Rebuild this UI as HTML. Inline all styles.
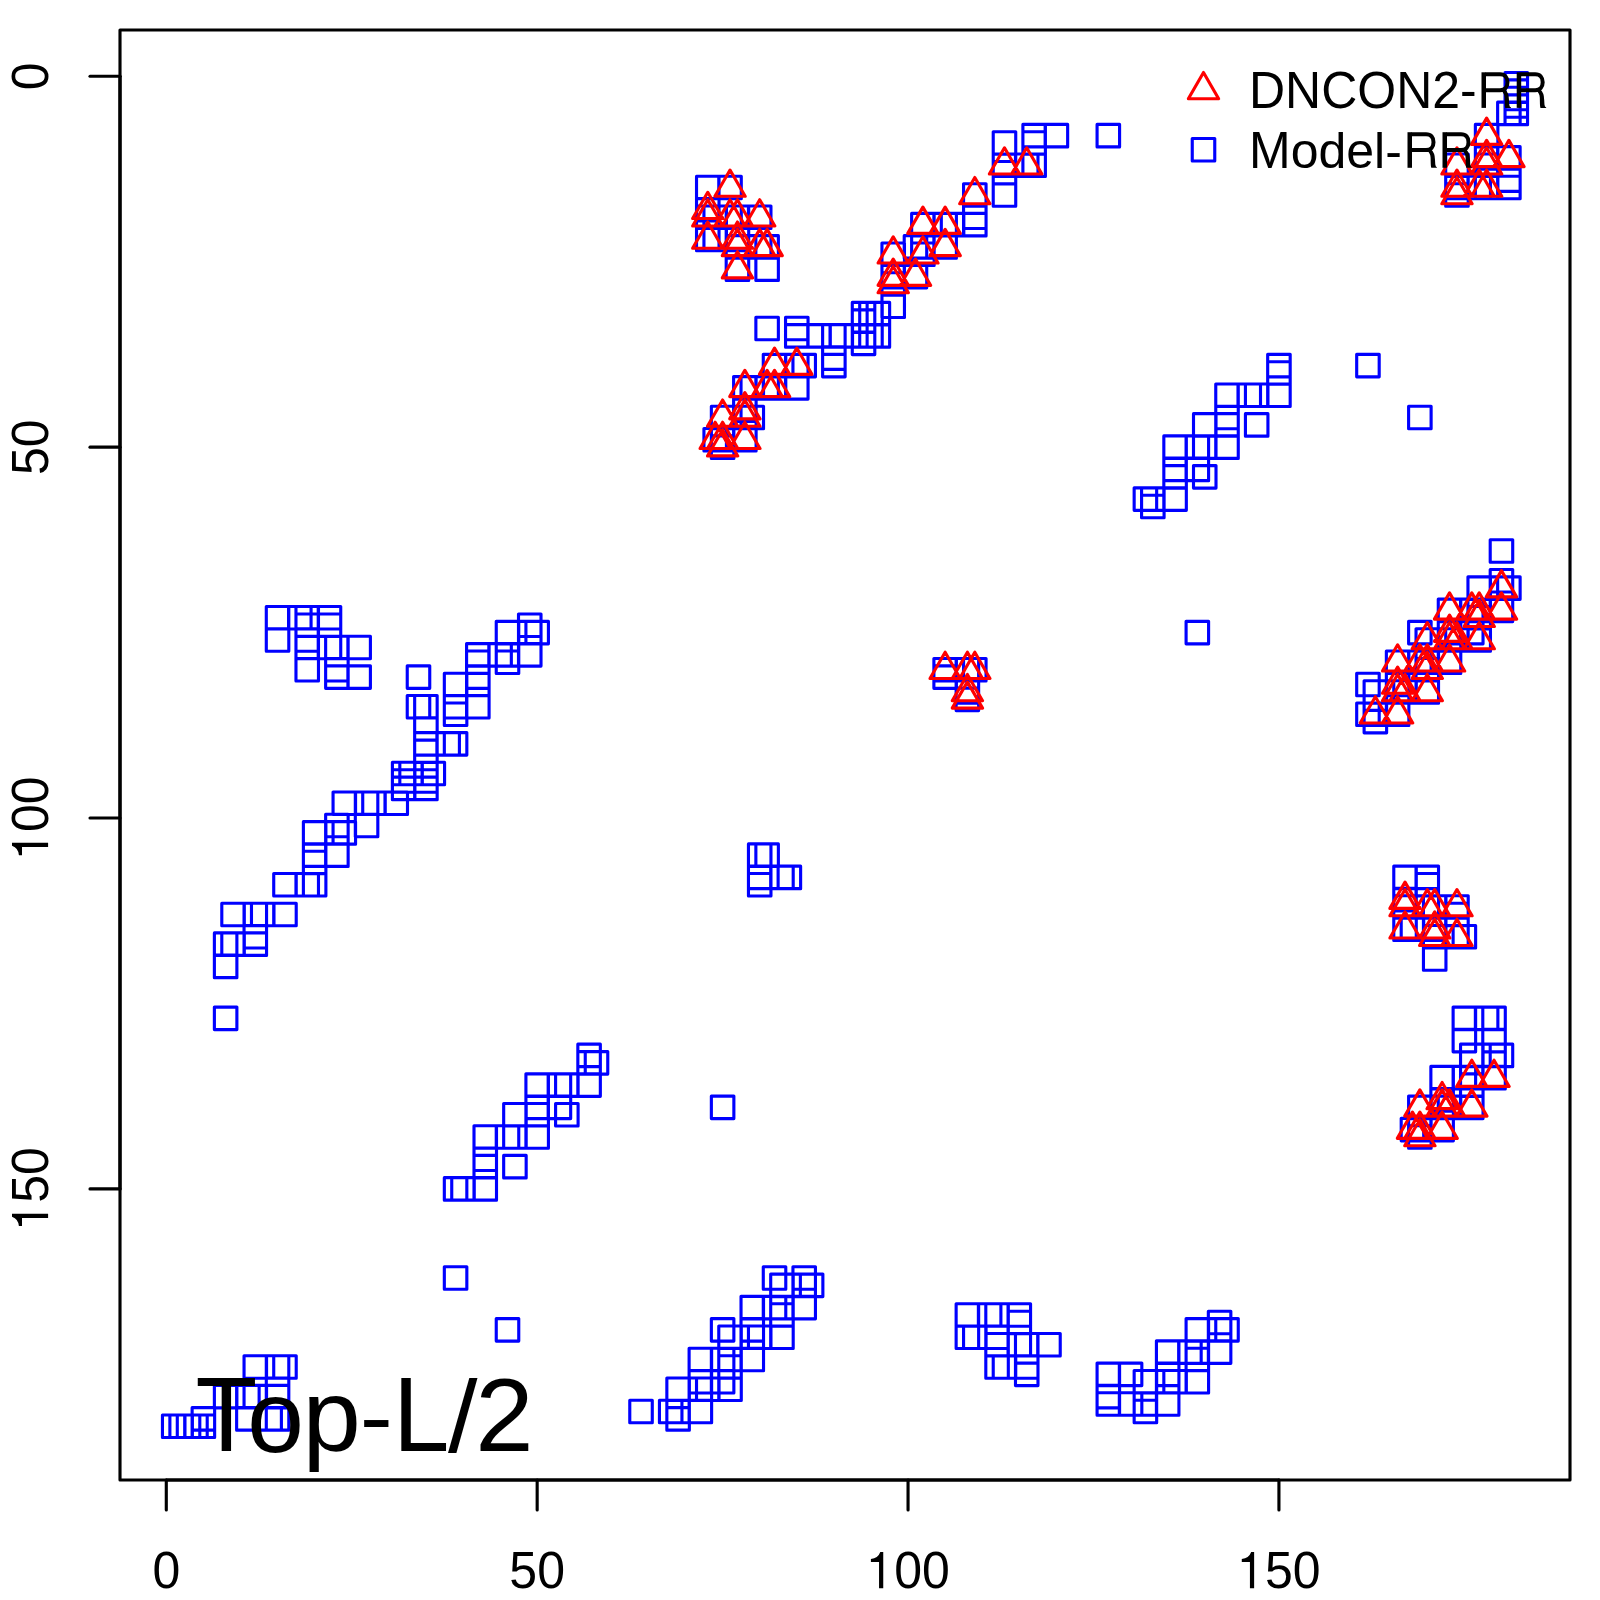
<!DOCTYPE html>
<html><head><meta charset="utf-8"><title>Top-L/2</title>
<style>html,body{margin:0;padding:0;background:#fff}svg{display:block}text{font-family:"Liberation Sans",sans-serif;fill:#000}</style></head>
<body>
<svg width="1600" height="1600" viewBox="0 0 1600 1600">
<rect x="0" y="0" width="1600" height="1600" fill="#fff"/>
<path fill="none" stroke="#0000ff" stroke-width="3.125" stroke-linejoin="round" d="M162.46 1415.04h22.50v22.50h-22.50zM169.88 1415.04h22.50v22.50h-22.50zM177.29 1415.04h22.50v22.50h-22.50zM184.71 1415.04h22.50v22.50h-22.50zM192.13 1415.04h22.50v22.50h-22.50zM192.13 1407.63h22.50v22.50h-22.50zM214.38 1385.37h22.50v22.50h-22.50zM236.63 1385.37h22.50v22.50h-22.50zM244.05 1385.37h22.50v22.50h-22.50zM266.30 1385.37h22.50v22.50h-22.50zM236.63 1407.63h22.50v22.50h-22.50zM258.89 1407.63h22.50v22.50h-22.50zM266.30 1407.63h22.50v22.50h-22.50zM244.05 1355.70h22.50v22.50h-22.50zM266.30 1355.70h22.50v22.50h-22.50zM273.72 1355.70h22.50v22.50h-22.50zM266.30 1377.96h22.50v22.50h-22.50zM221.80 903.23h22.50v22.50h-22.50zM244.05 903.23h22.50v22.50h-22.50zM251.47 903.23h22.50v22.50h-22.50zM273.72 903.23h22.50v22.50h-22.50zM214.38 932.90h22.50v22.50h-22.50zM221.80 932.90h22.50v22.50h-22.50zM244.05 932.90h22.50v22.50h-22.50zM244.05 925.48h22.50v22.50h-22.50zM214.38 955.15h22.50v22.50h-22.50zM214.38 1007.08h22.50v22.50h-22.50zM273.72 873.56h22.50v22.50h-22.50zM295.97 873.56h22.50v22.50h-22.50zM303.39 873.56h22.50v22.50h-22.50zM303.39 821.64h22.50v22.50h-22.50zM303.39 843.89h22.50v22.50h-22.50zM303.39 851.31h22.50v22.50h-22.50zM325.64 814.22h22.50v22.50h-22.50zM325.64 821.64h22.50v22.50h-22.50zM325.64 843.89h22.50v22.50h-22.50zM333.06 791.96h22.50v22.50h-22.50zM333.06 821.64h22.50v22.50h-22.50zM355.32 791.96h22.50v22.50h-22.50zM362.73 791.96h22.50v22.50h-22.50zM384.99 791.96h22.50v22.50h-22.50zM355.32 814.22h22.50v22.50h-22.50zM392.40 762.29h22.50v22.50h-22.50zM392.40 769.71h22.50v22.50h-22.50zM392.40 777.13h22.50v22.50h-22.50zM414.66 762.29h22.50v22.50h-22.50zM414.66 769.71h22.50v22.50h-22.50zM414.66 777.13h22.50v22.50h-22.50zM399.82 762.29h22.50v22.50h-22.50zM422.07 762.29h22.50v22.50h-22.50zM407.24 665.87h22.50v22.50h-22.50zM407.24 695.54h22.50v22.50h-22.50zM414.66 695.54h22.50v22.50h-22.50zM414.66 717.79h22.50v22.50h-22.50zM414.66 732.62h22.50v22.50h-22.50zM414.66 740.04h22.50v22.50h-22.50zM436.91 732.62h22.50v22.50h-22.50zM444.33 732.62h22.50v22.50h-22.50zM444.33 673.28h22.50v22.50h-22.50zM444.33 695.54h22.50v22.50h-22.50zM444.33 702.95h22.50v22.50h-22.50zM466.58 643.61h22.50v22.50h-22.50zM466.58 651.03h22.50v22.50h-22.50zM466.58 665.87h22.50v22.50h-22.50zM466.58 673.28h22.50v22.50h-22.50zM466.58 695.54h22.50v22.50h-22.50zM488.83 643.61h22.50v22.50h-22.50zM496.25 643.61h22.50v22.50h-22.50zM496.25 651.03h22.50v22.50h-22.50zM518.50 643.61h22.50v22.50h-22.50zM496.25 621.36h22.50v22.50h-22.50zM518.50 613.94h22.50v22.50h-22.50zM518.50 621.36h22.50v22.50h-22.50zM525.92 621.36h22.50v22.50h-22.50zM266.30 606.52h22.50v22.50h-22.50zM266.30 628.78h22.50v22.50h-22.50zM288.56 606.52h22.50v22.50h-22.50zM295.97 606.52h22.50v22.50h-22.50zM318.23 606.52h22.50v22.50h-22.50zM295.97 613.94h22.50v22.50h-22.50zM318.23 613.94h22.50v22.50h-22.50zM295.97 628.78h22.50v22.50h-22.50zM295.97 636.20h22.50v22.50h-22.50zM295.97 658.45h22.50v22.50h-22.50zM318.23 636.20h22.50v22.50h-22.50zM325.64 636.20h22.50v22.50h-22.50zM325.64 658.45h22.50v22.50h-22.50zM325.64 665.87h22.50v22.50h-22.50zM347.90 636.20h22.50v22.50h-22.50zM347.90 665.87h22.50v22.50h-22.50zM444.33 1177.68h22.50v22.50h-22.50zM451.74 1177.68h22.50v22.50h-22.50zM474.00 1177.68h22.50v22.50h-22.50zM474.00 1125.76h22.50v22.50h-22.50zM474.00 1148.01h22.50v22.50h-22.50zM474.00 1155.43h22.50v22.50h-22.50zM496.25 1125.76h22.50v22.50h-22.50zM503.67 1125.76h22.50v22.50h-22.50zM525.92 1125.76h22.50v22.50h-22.50zM503.67 1155.43h22.50v22.50h-22.50zM503.67 1103.50h22.50v22.50h-22.50zM525.92 1073.83h22.50v22.50h-22.50zM525.92 1096.09h22.50v22.50h-22.50zM525.92 1103.50h22.50v22.50h-22.50zM548.17 1073.83h22.50v22.50h-22.50zM555.59 1073.83h22.50v22.50h-22.50zM577.84 1073.83h22.50v22.50h-22.50zM548.17 1096.09h22.50v22.50h-22.50zM555.59 1103.50h22.50v22.50h-22.50zM577.84 1044.16h22.50v22.50h-22.50zM577.84 1051.58h22.50v22.50h-22.50zM585.26 1051.58h22.50v22.50h-22.50zM444.33 1266.69h22.50v22.50h-22.50zM496.25 1318.61h22.50v22.50h-22.50zM629.77 1400.21h22.50v22.50h-22.50zM659.44 1400.21h22.50v22.50h-22.50zM666.85 1400.21h22.50v22.50h-22.50zM666.85 1407.63h22.50v22.50h-22.50zM666.85 1377.96h22.50v22.50h-22.50zM689.11 1400.21h22.50v22.50h-22.50zM689.11 1348.28h22.50v22.50h-22.50zM689.11 1370.54h22.50v22.50h-22.50zM689.11 1377.96h22.50v22.50h-22.50zM696.52 1377.96h22.50v22.50h-22.50zM711.36 1370.54h22.50v22.50h-22.50zM718.78 1377.96h22.50v22.50h-22.50zM711.36 1348.28h22.50v22.50h-22.50zM718.78 1348.28h22.50v22.50h-22.50zM718.78 1355.70h22.50v22.50h-22.50zM741.03 1348.28h22.50v22.50h-22.50zM711.36 1318.61h22.50v22.50h-22.50zM718.78 1326.03h22.50v22.50h-22.50zM741.03 1318.61h22.50v22.50h-22.50zM741.03 1326.03h22.50v22.50h-22.50zM748.45 1326.03h22.50v22.50h-22.50zM741.03 1296.36h22.50v22.50h-22.50zM763.28 1296.36h22.50v22.50h-22.50zM770.70 1296.36h22.50v22.50h-22.50zM770.70 1303.78h22.50v22.50h-22.50zM770.70 1326.03h22.50v22.50h-22.50zM792.95 1296.36h22.50v22.50h-22.50zM763.28 1266.69h22.50v22.50h-22.50zM792.95 1266.69h22.50v22.50h-22.50zM770.70 1274.11h22.50v22.50h-22.50zM792.95 1274.11h22.50v22.50h-22.50zM800.37 1274.11h22.50v22.50h-22.50zM748.45 843.89h22.50v22.50h-22.50zM755.87 843.89h22.50v22.50h-22.50zM748.45 866.14h22.50v22.50h-22.50zM748.45 873.56h22.50v22.50h-22.50zM770.70 866.14h22.50v22.50h-22.50zM778.12 866.14h22.50v22.50h-22.50zM711.36 1096.09h22.50v22.50h-22.50zM956.14 1303.78h22.50v22.50h-22.50zM978.39 1303.78h22.50v22.50h-22.50zM985.81 1303.78h22.50v22.50h-22.50zM1008.06 1303.78h22.50v22.50h-22.50zM1008.06 1311.20h22.50v22.50h-22.50zM956.14 1326.03h22.50v22.50h-22.50zM963.56 1326.03h22.50v22.50h-22.50zM985.81 1326.03h22.50v22.50h-22.50zM985.81 1333.45h22.50v22.50h-22.50zM1008.06 1333.45h22.50v22.50h-22.50zM1015.48 1333.45h22.50v22.50h-22.50zM1037.73 1333.45h22.50v22.50h-22.50zM985.81 1355.70h22.50v22.50h-22.50zM993.23 1355.70h22.50v22.50h-22.50zM1015.48 1355.70h22.50v22.50h-22.50zM1015.48 1363.12h22.50v22.50h-22.50zM1208.34 1311.20h22.50v22.50h-22.50zM1186.09 1318.61h22.50v22.50h-22.50zM1208.34 1318.61h22.50v22.50h-22.50zM1215.76 1318.61h22.50v22.50h-22.50zM1208.34 1340.87h22.50v22.50h-22.50zM1156.42 1340.87h22.50v22.50h-22.50zM1178.67 1340.87h22.50v22.50h-22.50zM1186.09 1340.87h22.50v22.50h-22.50zM1186.09 1348.28h22.50v22.50h-22.50zM1134.16 1370.54h22.50v22.50h-22.50zM1156.42 1370.54h22.50v22.50h-22.50zM1163.83 1370.54h22.50v22.50h-22.50zM1186.09 1370.54h22.50v22.50h-22.50zM1156.42 1363.12h22.50v22.50h-22.50zM1097.08 1363.12h22.50v22.50h-22.50zM1119.33 1363.12h22.50v22.50h-22.50zM1097.08 1385.37h22.50v22.50h-22.50zM1097.08 1392.79h22.50v22.50h-22.50zM1119.33 1392.79h22.50v22.50h-22.50zM1134.16 1392.79h22.50v22.50h-22.50zM1156.42 1392.79h22.50v22.50h-22.50zM1134.16 1400.21h22.50v22.50h-22.50zM1505.04 72.46h22.50v22.50h-22.50zM1505.04 79.88h22.50v22.50h-22.50zM1505.04 87.29h22.50v22.50h-22.50zM1505.04 94.71h22.50v22.50h-22.50zM1505.04 102.13h22.50v22.50h-22.50zM1497.63 102.13h22.50v22.50h-22.50zM1475.37 124.38h22.50v22.50h-22.50zM1475.37 146.63h22.50v22.50h-22.50zM1475.37 154.05h22.50v22.50h-22.50zM1475.37 176.30h22.50v22.50h-22.50zM1497.63 146.63h22.50v22.50h-22.50zM1497.63 168.89h22.50v22.50h-22.50zM1497.63 176.30h22.50v22.50h-22.50zM1445.70 154.05h22.50v22.50h-22.50zM1445.70 176.30h22.50v22.50h-22.50zM1445.70 183.72h22.50v22.50h-22.50zM1467.96 176.30h22.50v22.50h-22.50zM993.23 131.80h22.50v22.50h-22.50zM993.23 154.05h22.50v22.50h-22.50zM993.23 161.47h22.50v22.50h-22.50zM993.23 183.72h22.50v22.50h-22.50zM1022.90 124.38h22.50v22.50h-22.50zM1022.90 131.80h22.50v22.50h-22.50zM1022.90 154.05h22.50v22.50h-22.50zM1015.48 154.05h22.50v22.50h-22.50zM1045.15 124.38h22.50v22.50h-22.50zM1097.08 124.38h22.50v22.50h-22.50zM963.56 183.72h22.50v22.50h-22.50zM963.56 205.97h22.50v22.50h-22.50zM963.56 213.39h22.50v22.50h-22.50zM911.64 213.39h22.50v22.50h-22.50zM933.89 213.39h22.50v22.50h-22.50zM941.31 213.39h22.50v22.50h-22.50zM904.22 235.64h22.50v22.50h-22.50zM911.64 235.64h22.50v22.50h-22.50zM933.89 235.64h22.50v22.50h-22.50zM881.96 243.06h22.50v22.50h-22.50zM911.64 243.06h22.50v22.50h-22.50zM881.96 265.32h22.50v22.50h-22.50zM881.96 272.73h22.50v22.50h-22.50zM881.96 294.99h22.50v22.50h-22.50zM904.22 265.32h22.50v22.50h-22.50zM852.29 302.40h22.50v22.50h-22.50zM859.71 302.40h22.50v22.50h-22.50zM867.13 302.40h22.50v22.50h-22.50zM852.29 324.66h22.50v22.50h-22.50zM859.71 324.66h22.50v22.50h-22.50zM867.13 324.66h22.50v22.50h-22.50zM852.29 309.82h22.50v22.50h-22.50zM852.29 332.07h22.50v22.50h-22.50zM755.87 317.24h22.50v22.50h-22.50zM785.54 317.24h22.50v22.50h-22.50zM785.54 324.66h22.50v22.50h-22.50zM807.79 324.66h22.50v22.50h-22.50zM822.62 324.66h22.50v22.50h-22.50zM830.04 324.66h22.50v22.50h-22.50zM822.62 346.91h22.50v22.50h-22.50zM822.62 354.33h22.50v22.50h-22.50zM763.28 354.33h22.50v22.50h-22.50zM785.54 354.33h22.50v22.50h-22.50zM792.95 354.33h22.50v22.50h-22.50zM733.61 376.58h22.50v22.50h-22.50zM741.03 376.58h22.50v22.50h-22.50zM755.87 376.58h22.50v22.50h-22.50zM763.28 376.58h22.50v22.50h-22.50zM785.54 376.58h22.50v22.50h-22.50zM733.61 398.83h22.50v22.50h-22.50zM733.61 406.25h22.50v22.50h-22.50zM741.03 406.25h22.50v22.50h-22.50zM733.61 428.50h22.50v22.50h-22.50zM711.36 406.25h22.50v22.50h-22.50zM703.94 428.50h22.50v22.50h-22.50zM711.36 428.50h22.50v22.50h-22.50zM711.36 435.92h22.50v22.50h-22.50zM696.52 176.30h22.50v22.50h-22.50zM718.78 176.30h22.50v22.50h-22.50zM696.52 198.56h22.50v22.50h-22.50zM696.52 205.97h22.50v22.50h-22.50zM696.52 228.23h22.50v22.50h-22.50zM703.94 205.97h22.50v22.50h-22.50zM703.94 228.23h22.50v22.50h-22.50zM718.78 205.97h22.50v22.50h-22.50zM726.20 205.97h22.50v22.50h-22.50zM748.45 205.97h22.50v22.50h-22.50zM726.20 228.23h22.50v22.50h-22.50zM726.20 235.64h22.50v22.50h-22.50zM748.45 235.64h22.50v22.50h-22.50zM755.87 235.64h22.50v22.50h-22.50zM726.20 257.90h22.50v22.50h-22.50zM755.87 257.90h22.50v22.50h-22.50zM1267.68 354.33h22.50v22.50h-22.50zM1267.68 361.74h22.50v22.50h-22.50zM1267.68 384.00h22.50v22.50h-22.50zM1215.76 384.00h22.50v22.50h-22.50zM1238.01 384.00h22.50v22.50h-22.50zM1245.43 384.00h22.50v22.50h-22.50zM1215.76 406.25h22.50v22.50h-22.50zM1215.76 413.67h22.50v22.50h-22.50zM1215.76 435.92h22.50v22.50h-22.50zM1245.43 413.67h22.50v22.50h-22.50zM1193.50 413.67h22.50v22.50h-22.50zM1163.83 435.92h22.50v22.50h-22.50zM1186.09 435.92h22.50v22.50h-22.50zM1193.50 435.92h22.50v22.50h-22.50zM1163.83 458.17h22.50v22.50h-22.50zM1163.83 465.59h22.50v22.50h-22.50zM1163.83 487.84h22.50v22.50h-22.50zM1186.09 458.17h22.50v22.50h-22.50zM1193.50 465.59h22.50v22.50h-22.50zM1134.16 487.84h22.50v22.50h-22.50zM1141.58 487.84h22.50v22.50h-22.50zM1141.58 495.26h22.50v22.50h-22.50zM1356.69 354.33h22.50v22.50h-22.50zM1408.61 406.25h22.50v22.50h-22.50zM1490.21 539.77h22.50v22.50h-22.50zM1490.21 569.44h22.50v22.50h-22.50zM1490.21 576.85h22.50v22.50h-22.50zM1497.63 576.85h22.50v22.50h-22.50zM1467.96 576.85h22.50v22.50h-22.50zM1490.21 599.11h22.50v22.50h-22.50zM1438.28 599.11h22.50v22.50h-22.50zM1460.54 599.11h22.50v22.50h-22.50zM1467.96 599.11h22.50v22.50h-22.50zM1467.96 606.52h22.50v22.50h-22.50zM1460.54 621.36h22.50v22.50h-22.50zM1467.96 628.78h22.50v22.50h-22.50zM1438.28 621.36h22.50v22.50h-22.50zM1438.28 628.78h22.50v22.50h-22.50zM1445.70 628.78h22.50v22.50h-22.50zM1438.28 651.03h22.50v22.50h-22.50zM1408.61 621.36h22.50v22.50h-22.50zM1416.03 628.78h22.50v22.50h-22.50zM1408.61 651.03h22.50v22.50h-22.50zM1416.03 651.03h22.50v22.50h-22.50zM1416.03 658.45h22.50v22.50h-22.50zM1386.36 651.03h22.50v22.50h-22.50zM1386.36 673.28h22.50v22.50h-22.50zM1386.36 680.70h22.50v22.50h-22.50zM1393.78 680.70h22.50v22.50h-22.50zM1416.03 680.70h22.50v22.50h-22.50zM1386.36 702.95h22.50v22.50h-22.50zM1356.69 673.28h22.50v22.50h-22.50zM1356.69 702.95h22.50v22.50h-22.50zM1364.11 680.70h22.50v22.50h-22.50zM1364.11 702.95h22.50v22.50h-22.50zM1364.11 710.37h22.50v22.50h-22.50zM933.89 658.45h22.50v22.50h-22.50zM933.89 665.87h22.50v22.50h-22.50zM956.14 658.45h22.50v22.50h-22.50zM963.56 658.45h22.50v22.50h-22.50zM956.14 680.70h22.50v22.50h-22.50zM956.14 688.12h22.50v22.50h-22.50zM1186.09 621.36h22.50v22.50h-22.50zM1393.78 866.14h22.50v22.50h-22.50zM1393.78 888.39h22.50v22.50h-22.50zM1393.78 895.81h22.50v22.50h-22.50zM1393.78 918.06h22.50v22.50h-22.50zM1401.20 918.06h22.50v22.50h-22.50zM1416.03 866.14h22.50v22.50h-22.50zM1416.03 873.56h22.50v22.50h-22.50zM1416.03 895.81h22.50v22.50h-22.50zM1423.45 895.81h22.50v22.50h-22.50zM1423.45 918.06h22.50v22.50h-22.50zM1423.45 925.48h22.50v22.50h-22.50zM1423.45 947.73h22.50v22.50h-22.50zM1445.70 895.81h22.50v22.50h-22.50zM1445.70 903.23h22.50v22.50h-22.50zM1445.70 925.48h22.50v22.50h-22.50zM1453.12 925.48h22.50v22.50h-22.50zM1401.20 1118.34h22.50v22.50h-22.50zM1408.61 1096.09h22.50v22.50h-22.50zM1408.61 1118.34h22.50v22.50h-22.50zM1408.61 1125.76h22.50v22.50h-22.50zM1430.87 1118.34h22.50v22.50h-22.50zM1430.87 1066.42h22.50v22.50h-22.50zM1430.87 1088.67h22.50v22.50h-22.50zM1430.87 1096.09h22.50v22.50h-22.50zM1438.28 1096.09h22.50v22.50h-22.50zM1460.54 1044.16h22.50v22.50h-22.50zM1460.54 1066.42h22.50v22.50h-22.50zM1460.54 1073.83h22.50v22.50h-22.50zM1460.54 1096.09h22.50v22.50h-22.50zM1453.12 1066.42h22.50v22.50h-22.50zM1453.12 1007.08h22.50v22.50h-22.50zM1453.12 1029.33h22.50v22.50h-22.50zM1475.37 1007.08h22.50v22.50h-22.50zM1482.79 1007.08h22.50v22.50h-22.50zM1482.79 1029.33h22.50v22.50h-22.50zM1482.79 1044.16h22.50v22.50h-22.50zM1482.79 1066.42h22.50v22.50h-22.50zM1490.21 1044.16h22.50v22.50h-22.50z"/>
<path fill="none" stroke="#ff0000" stroke-width="3.125" stroke-linejoin="round" d="M730.03 170.06L745.18 196.30L714.88 196.30zM707.77 192.32L722.92 218.56L692.62 218.56zM707.77 199.73L722.92 225.97L692.62 225.97zM730.03 199.73L745.18 225.97L714.88 225.97zM737.45 199.73L752.60 225.97L722.30 225.97zM759.70 199.73L774.85 225.97L744.55 225.97zM707.77 221.99L722.92 248.23L692.62 248.23zM737.45 221.99L752.60 248.23L722.30 248.23zM737.45 229.40L752.60 255.64L722.30 255.64zM759.70 229.40L774.85 255.64L744.55 255.64zM767.12 229.40L782.27 255.64L751.97 255.64zM737.45 251.66L752.60 277.90L722.30 277.90zM974.81 177.48L989.96 203.72L959.66 203.72zM922.89 207.15L938.04 233.39L907.74 233.39zM945.14 207.15L960.29 233.39L929.99 233.39zM945.14 229.40L960.29 255.64L929.99 255.64zM893.21 236.82L908.36 263.06L878.06 263.06zM922.89 236.82L938.04 263.06L907.74 263.06zM893.21 259.08L908.36 285.32L878.06 285.32zM915.47 259.08L930.62 285.32L900.32 285.32zM893.21 266.49L908.36 292.73L878.06 292.73zM1004.48 147.81L1019.63 174.05L989.33 174.05zM1026.73 147.81L1041.88 174.05L1011.58 174.05zM774.53 348.09L789.68 374.33L759.38 374.33zM796.79 348.09L811.94 374.33L781.64 374.33zM744.86 370.34L760.01 396.58L729.71 396.58zM767.12 370.34L782.27 396.58L751.97 396.58zM774.53 370.34L789.68 396.58L759.38 396.58zM744.86 392.59L760.01 418.83L729.71 418.83zM744.86 400.01L760.01 426.25L729.71 426.25zM722.61 400.01L737.76 426.25L707.46 426.25zM715.19 422.26L730.34 448.50L700.04 448.50zM722.61 422.26L737.76 448.50L707.46 448.50zM744.86 422.26L760.01 448.50L729.71 448.50zM722.61 429.68L737.76 455.92L707.46 455.92zM945.14 652.21L960.29 678.45L929.99 678.45zM967.39 652.21L982.54 678.45L952.24 678.45zM974.81 652.21L989.96 678.45L959.66 678.45zM967.39 674.46L982.54 700.70L952.24 700.70zM967.39 681.88L982.54 708.12L952.24 708.12zM1501.46 570.61L1516.61 596.85L1486.31 596.85zM1501.46 592.87L1516.61 619.11L1486.31 619.11zM1449.53 592.87L1464.68 619.11L1434.38 619.11zM1471.79 592.87L1486.94 619.11L1456.64 619.11zM1479.21 592.87L1494.36 619.11L1464.06 619.11zM1479.21 600.28L1494.36 626.52L1464.06 626.52zM1449.53 615.12L1464.68 641.36L1434.38 641.36zM1449.53 622.54L1464.68 648.78L1434.38 648.78zM1456.95 622.54L1472.10 648.78L1441.80 648.78zM1427.28 622.54L1442.43 648.78L1412.13 648.78zM1479.21 622.54L1494.36 648.78L1464.06 648.78zM1449.53 644.79L1464.68 671.03L1434.38 671.03zM1427.28 644.79L1442.43 671.03L1412.13 671.03zM1419.86 644.79L1435.01 671.03L1404.71 671.03zM1397.61 644.79L1412.76 671.03L1382.46 671.03zM1427.28 652.21L1442.43 678.45L1412.13 678.45zM1397.61 667.04L1412.76 693.28L1382.46 693.28zM1397.61 674.46L1412.76 700.70L1382.46 700.70zM1405.03 674.46L1420.18 700.70L1389.88 700.70zM1427.28 674.46L1442.43 700.70L1412.13 700.70zM1375.36 696.71L1390.51 722.95L1360.21 722.95zM1397.61 696.71L1412.76 722.95L1382.46 722.95zM1405.03 882.15L1420.18 908.39L1389.88 908.39zM1405.03 889.57L1420.18 915.81L1389.88 915.81zM1427.28 889.57L1442.43 915.81L1412.13 915.81zM1434.70 889.57L1449.85 915.81L1419.55 915.81zM1456.95 889.57L1472.10 915.81L1441.80 915.81zM1405.03 911.82L1420.18 938.06L1389.88 938.06zM1434.70 911.82L1449.85 938.06L1419.55 938.06zM1434.70 919.24L1449.85 945.48L1419.55 945.48zM1456.95 919.24L1472.10 945.48L1441.80 945.48zM1471.79 1060.18L1486.94 1086.42L1456.64 1086.42zM1494.04 1060.18L1509.19 1086.42L1478.89 1086.42zM1442.12 1082.43L1457.27 1108.67L1426.97 1108.67zM1419.86 1089.85L1435.01 1116.09L1404.71 1116.09zM1442.12 1089.85L1457.27 1116.09L1426.97 1116.09zM1449.53 1089.85L1464.68 1116.09L1434.38 1116.09zM1471.79 1089.85L1486.94 1116.09L1456.64 1116.09zM1412.45 1112.10L1427.60 1138.34L1397.30 1138.34zM1419.86 1112.10L1435.01 1138.34L1404.71 1138.34zM1442.12 1112.10L1457.27 1138.34L1426.97 1138.34zM1419.86 1119.52L1435.01 1145.76L1404.71 1145.76zM1486.62 118.14L1501.77 144.38L1471.47 144.38zM1486.62 140.39L1501.77 166.63L1471.47 166.63zM1508.88 140.39L1524.03 166.63L1493.73 166.63zM1486.62 147.81L1501.77 174.05L1471.47 174.05zM1456.95 147.81L1472.10 174.05L1441.80 174.05zM1456.95 170.06L1472.10 196.30L1441.80 196.30zM1479.21 170.06L1494.36 196.30L1464.06 196.30zM1486.62 170.06L1501.77 196.30L1471.47 196.30zM1456.95 177.48L1472.10 203.72L1441.80 203.72z"/>
<g fill="none" stroke="#000" stroke-width="3.125" stroke-linecap="round" stroke-linejoin="round">
<rect x="120" y="30" width="1450" height="1450"/>
<path d="M166.29 1480H1278.93"/>
<path d="M120 76.29V1188.93"/>
<path d="M166.29 1480v30"/>
<path d="M120 76.29h-30"/>
<path d="M537.17 1480v30"/>
<path d="M120 447.17h-30"/>
<path d="M908.05 1480v30"/>
<path d="M120 818.05h-30"/>
<path d="M1278.93 1480v30"/>
<path d="M120 1188.93h-30"/>
</g>
<g transform="translate(166.29 1588.2)"><text transform="translate(-13.90 0.1) scale(1 1.035)" font-size="50">0</text></g>
<g transform="translate(48.1 76.29) rotate(-90)"><text transform="translate(-13.90 0.1) scale(1 1.035)" font-size="50">0</text></g>
<g transform="translate(537.17 1588.2)"><text transform="translate(-27.80 0.1) scale(1 1.035)" font-size="50">50</text></g>
<g transform="translate(48.1 447.17) rotate(-90)"><text transform="translate(-27.80 0.1) scale(1 1.035)" font-size="50">50</text></g>
<g transform="translate(908.05 1588.2)"><path d="M-24.80 -36.1V0H-29.00V-26.1H-37.15V-29.2Q-30.00 -29.7 -27.75 -36.1Z"/><text transform="translate(-13.90 0.1) scale(1 1.035)" font-size="50">00</text></g>
<g transform="translate(48.1 818.05) rotate(-90)"><path d="M-24.80 -36.1V0H-29.00V-26.1H-37.15V-29.2Q-30.00 -29.7 -27.75 -36.1Z"/><text transform="translate(-13.90 0.1) scale(1 1.035)" font-size="50">00</text></g>
<g transform="translate(1278.93 1588.2)"><path d="M-24.80 -36.1V0H-29.00V-26.1H-37.15V-29.2Q-30.00 -29.7 -27.75 -36.1Z"/><text transform="translate(-13.90 0.1) scale(1 1.035)" font-size="50">50</text></g>
<g transform="translate(48.1 1188.93) rotate(-90)"><path d="M-24.80 -36.1V0H-29.00V-26.1H-37.15V-29.2Q-30.00 -29.7 -27.75 -36.1Z"/><text transform="translate(-13.90 0.1) scale(1 1.035)" font-size="50">50</text></g>
<path fill="none" stroke="#ff0000" stroke-width="3.125" stroke-linejoin="round" d="M1203.50 72.51L1218.65 98.75L1188.35 98.75z"/>
<rect fill="none" stroke="#0000ff" stroke-width="3.125" stroke-linejoin="round" x="1192.25" y="138.55" width="22.50" height="22.50"/>
<text transform="translate(1249 108.0) scale(1 1.045)" font-size="50">DNCON2-</text>
<g transform="translate(1481.50 107.90) scale(1 1.0028)"><path d="M0 -35.5H4.5V0H0Z"/><path fill="none" stroke="#000" stroke-width="4" d="M4 -33.5H18.5C23.5 -33.5 26 -30.3 26 -25.6C26 -20.9 23.5 -17.7 18.5 -17.7H4"/><path d="M19 -17.5C22 -15.5 23 -13 23.1 -10L23.25 -3.75Q23.3 -1.5 23.75 0H29.5V-0.4Q27.9 -1.3 27.75 -3.5L27.5 -8Q27.4 -15 23.5 -18.5Z"/></g>
<g transform="translate(1516.70 107.90) scale(1 1.0028)"><path d="M0 -35.5H4.5V0H0Z"/><path fill="none" stroke="#000" stroke-width="4" d="M4 -33.5H18.5C23.5 -33.5 26 -30.3 26 -25.6C26 -20.9 23.5 -17.7 18.5 -17.7H4"/><path d="M19 -17.5C22 -15.5 23 -13 23.1 -10L23.25 -3.75Q23.3 -1.5 23.75 0H29.5V-0.4Q27.9 -1.3 27.75 -3.5L27.5 -8Q27.4 -15 23.5 -18.5Z"/></g>
<text transform="translate(1249 167.9) scale(1 1.045)" font-size="50">M</text>
<text x="1290.65" y="167.9" font-size="50">odel-</text>
<g transform="translate(1407.50 167.80) scale(1 1.0028)"><path d="M0 -35.5H4.5V0H0Z"/><path fill="none" stroke="#000" stroke-width="4" d="M4 -33.5H18.5C23.5 -33.5 26 -30.3 26 -25.6C26 -20.9 23.5 -17.7 18.5 -17.7H4"/><path d="M19 -17.5C22 -15.5 23 -13 23.1 -10L23.25 -3.75Q23.3 -1.5 23.75 0H29.5V-0.4Q27.9 -1.3 27.75 -3.5L27.5 -8Q27.4 -15 23.5 -18.5Z"/></g>
<g transform="translate(1442.50 167.80) scale(1 1.0028)"><path d="M0 -35.5H4.5V0H0Z"/><path fill="none" stroke="#000" stroke-width="4" d="M4 -33.5H18.5C23.5 -33.5 26 -30.3 26 -25.6C26 -20.9 23.5 -17.7 18.5 -17.7H4"/><path d="M19 -17.5C22 -15.5 23 -13 23.1 -10L23.25 -3.75Q23.3 -1.5 23.75 0H29.5V-0.4Q27.9 -1.3 27.75 -3.5L27.5 -8Q27.4 -15 23.5 -18.5Z"/></g>
<text transform="matrix(1.0115 0 0 1.0536 195.57 1450.80)" font-size="100">T</text>
<text transform="matrix(1.0189 0 0 1.0127 247.22 1451.69)" font-size="100">o</text>
<text transform="matrix(1.0500 0 0 1.0148 302.43 1451.29)" font-size="100">p</text>
<text transform="matrix(0.9939 0 0 0.8875 359.78 1446.97)" font-size="100">-</text>
<text transform="matrix(1.0135 0 0 1.0565 392.99 1451.00)" font-size="100">L</text>
<text transform="matrix(1.0618 0 0 1.0163 448.10 1451.78)" font-size="100">/</text>
<text transform="matrix(1.0484 0 0 1.0300 475.16 1451.00)" font-size="100">2</text>
</svg></body></html>
